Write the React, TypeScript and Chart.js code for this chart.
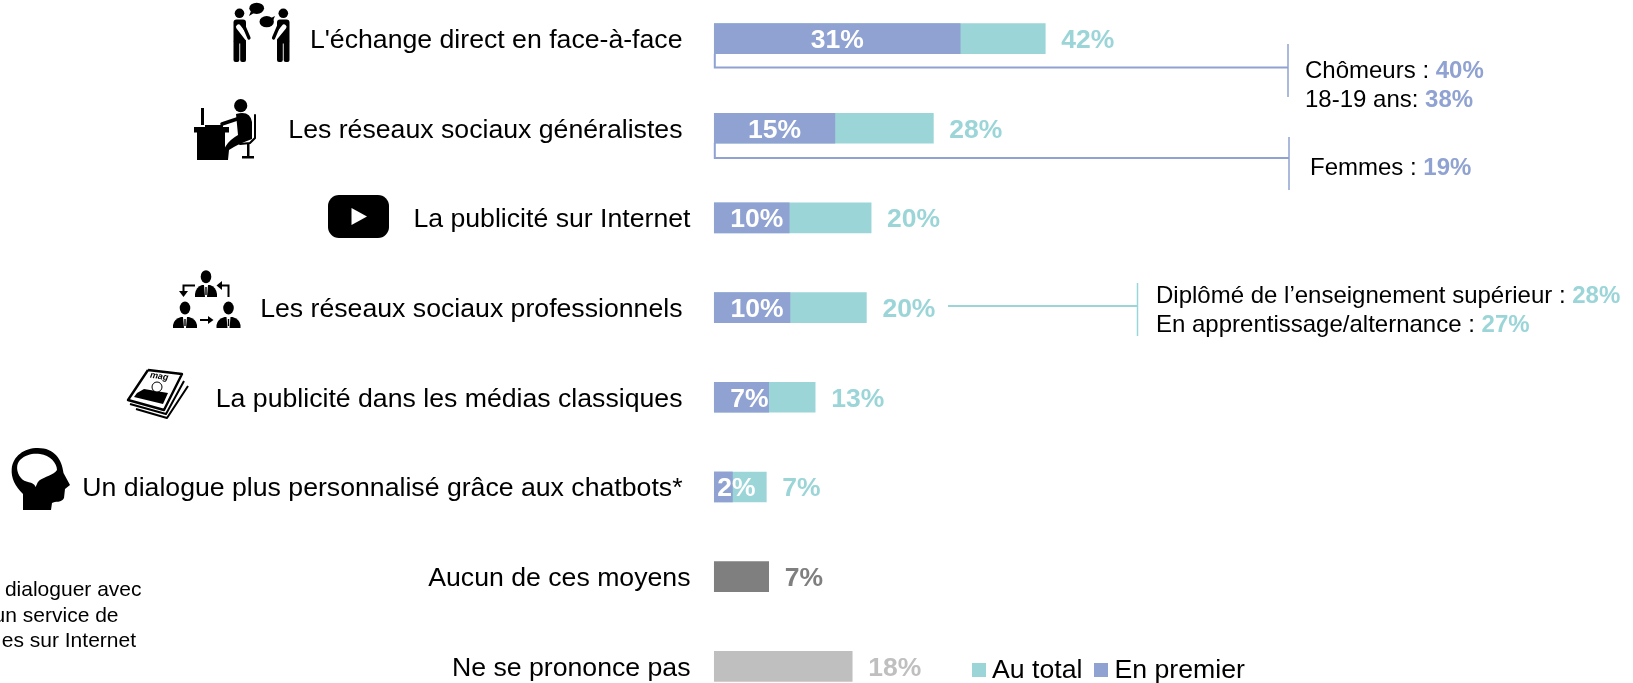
import React, { useEffect, useRef } from "react";
import { Chart, registerables } from "chart.js";

Chart.register(...registerables);

const categories = [
  "L'échange direct en face-à-face",
  "Les réseaux sociaux généralistes",
  "La publicité sur Internet",
  "Les réseaux sociaux professionnels",
  "La publicité dans les médias classiques",
  "Un dialogue plus personnalisé grâce aux chatbots*",
  "Aucun de ces moyens",
  "Ne se prononce pas",
];
const auTotal = [42, 27.8, 19.9, 19.3, 12.8, 6.6, 6.9, 17.5];
const enPremier = [31.2, 15.3, 9.5, 9.6, 6.9, 2.3, null, null];
const totalLabels = ["42%", "28%", "20%", "20%", "13%", "7%", "7%", "18%"];
const premierLabels = ["31%", "15%", "10%", "10%", "7%", "2%", "", ""];

const BLUE = "#8FA2D1";
const TEAL = "#9BD5D8";
const DARK = "#7F7F7F";
const LIGHT = "#BFBFBF";
const FONT = '"Liberation Sans", Arial, sans-serif';
const totalColors = [TEAL, TEAL, TEAL, TEAL, TEAL, TEAL, DARK, LIGHT];
const labelEnds = [682.5, 682.5, 690.5, 682.5, 682.5, 682.5, 690.5, 690.5];
const premierShift = [0, 0, 5, 5, 8, 13, 0, 0];

function mixed(ctx: CanvasRenderingContext2D, x: number, y: number, a: string, b: string, color: string) {
  ctx.textAlign = "left";
  ctx.textBaseline = "middle";
  ctx.font = `24px ${FONT}`;
  ctx.fillStyle = "#000";
  ctx.fillText(a, x, y);
  const w = ctx.measureText(a).width;
  ctx.font = `bold 24px ${FONT}`;
  ctx.fillStyle = color;
  ctx.fillText(b, x + w, y);
}

function seg(ctx: CanvasRenderingContext2D, pts: number[], color: string, w: number) {
  ctx.strokeStyle = color;
  ctx.lineWidth = w;
  ctx.beginPath();
  ctx.moveTo(pts[0], pts[1]);
  for (let i = 2; i < pts.length; i += 2) ctx.lineTo(pts[i], pts[i + 1]);
  ctx.stroke();
}

function poly(ctx: CanvasRenderingContext2D, pts: number[]) {
  ctx.beginPath();
  ctx.moveTo(pts[0], pts[1]);
  for (let i = 2; i < pts.length; i += 2) ctx.lineTo(pts[i], pts[i + 1]);
  ctx.closePath();
  ctx.fill();
}

function bust(ctx: CanvasRenderingContext2D, cx: number, headY: number, hw: number, top: number, bottom: number) {
  ctx.fillStyle = "#000";
  ctx.beginPath();
  ctx.ellipse(cx, headY, 5.3, 6.5, 0, 0, 7);
  ctx.fill();
  ctx.beginPath();
  ctx.moveTo(cx - hw, bottom);
  ctx.lineTo(cx - hw, bottom - 3);
  ctx.quadraticCurveTo(cx - hw + 1, top + 2, cx - 4, top);
  ctx.lineTo(cx + 4, top);
  ctx.quadraticCurveTo(cx + hw - 1, top + 2, cx + hw, bottom - 3);
  ctx.lineTo(cx + hw, bottom);
  ctx.closePath();
  ctx.fill();
  ctx.fillStyle = "#fff";
  poly(ctx, [cx - 2, top, cx + 2, top, cx + 1, bottom, cx - 1, bottom]);
  ctx.fillStyle = "#000";
  poly(ctx, [cx - 0.7, top + 2, cx + 0.7, top + 2, cx + 0.7, bottom - 2, cx - 0.7, bottom - 2]);
}

function drawIcons(ctx: CanvasRenderingContext2D) {
  ctx.save();
  ctx.fillStyle = "#000";
  ctx.lineCap = "round";
  const rr = (x: number, y: number, w: number, h: number, r: number) => {
    ctx.beginPath();
    ctx.roundRect(x, y, w, h, r);
    ctx.fill();
  };
  const circ = (x: number, y: number, r: number) => {
    ctx.beginPath();
    ctx.arc(x, y, r, 0, 7);
    ctx.fill();
  };

  // two people talking
  circ(239.5, 13.3, 4.8);
  circ(283.3, 13.3, 4.8);
  rr(233.5, 19.5, 12.5, 24, 3);
  rr(277, 19.5, 12.5, 24, 3);
  rr(233.5, 40, 5.8, 22, 2);
  rr(240.2, 40, 5.8, 22, 2);
  rr(277, 40, 5.8, 22, 2);
  rr(283.7, 40, 5.8, 22, 2);
  seg(ctx, [238.5, 27, 247, 38], "#fff", 5);
  seg(ctx, [284, 27, 275, 38], "#fff", 5);
  seg(ctx, [243, 24, 249, 38], "#000", 3.2);
  seg(ctx, [279.5, 24, 273.5, 38], "#000", 3.2);
  ctx.beginPath();
  ctx.ellipse(256.7, 8.3, 7.4, 5.6, 0, 0, 7);
  ctx.fill();
  ctx.beginPath();
  ctx.ellipse(266.7, 21.7, 7.2, 5.6, 0, 0, 7);
  ctx.fill();
  poly(ctx, [251, 11, 249, 16, 254, 13]);
  poly(ctx, [271, 18, 275, 16, 272, 23]);

  // person at desk
  circ(240.7, 105.7, 6.6);
  ctx.beginPath();
  ctx.moveTo(236, 114);
  ctx.quadraticCurveTo(250, 110, 252, 122);
  ctx.lineTo(252, 139);
  ctx.quadraticCurveTo(236, 145, 229, 150);
  ctx.lineTo(228, 160);
  ctx.lineTo(222, 160);
  ctx.quadraticCurveTo(222, 144, 238, 135);
  ctx.closePath();
  ctx.fill();
  seg(ctx, [240, 118, 222, 124], "#000", 3.5);
  ctx.fillRect(194, 127, 35, 5.5);
  ctx.fillRect(197, 132, 28, 28);
  ctx.fillRect(201, 108, 3, 17);
  ctx.fillRect(205, 125, 18, 2);
  seg(ctx, [255, 115, 255, 138, 250, 143, 240, 144], "#000", 2);
  ctx.fillRect(247, 144, 2.5, 13);
  ctx.fillRect(242, 156, 12, 2.5);

  // play button
  rr(328, 195, 61, 43, 11);
  ctx.fillStyle = "#fff";
  poly(ctx, [351.5, 208, 351.5, 225, 367, 216.5]);
  ctx.fillStyle = "#000";

  // network of people
  bust(ctx, 206, 276.7, 11, 285, 297);
  bust(ctx, 185, 308, 12, 317, 328);
  bust(ctx, 228.5, 308, 12, 317, 328);
  ctx.lineCap = "butt";
  seg(ctx, [195, 285.5, 183.5, 285.5, 183.5, 292], "#000", 2);
  poly(ctx, [179, 291, 188, 291, 183.5, 297]);
  seg(ctx, [228.5, 297, 228.5, 285.5, 221, 285.5], "#000", 2);
  poly(ctx, [222, 281, 222, 290, 216.5, 285.5]);
  seg(ctx, [200, 320, 209, 320], "#000", 2);
  poly(ctx, [208, 316, 208, 324, 213.5, 320]);

  // magazine
  ctx.lineJoin = "round";
  seg(ctx, [148, 370, 182, 374, 164, 410, 128, 400, 148, 370], "#000", 2.4);
  seg(ctx, [184, 381, 166, 414, 130, 404], "#000", 2);
  seg(ctx, [188, 386, 167, 418, 136, 409], "#000", 2);
  poly(ctx, [137, 393, 144, 389, 168, 393, 163, 404, 134, 397]);
  ctx.beginPath();
  ctx.arc(157, 387, 5, 0, 7);
  ctx.fillStyle = "#fff";
  ctx.fill();
  ctx.strokeStyle = "#000";
  ctx.lineWidth = 1;
  ctx.stroke();
  ctx.fillStyle = "#000";
  ctx.font = `italic bold 9px ${FONT}`;
  ctx.textAlign = "left";
  ctx.textBaseline = "middle";
  ctx.save();
  ctx.translate(150, 375);
  ctx.rotate(0.15);
  ctx.fillText("mag", 0, 0);
  ctx.restore();

  // head with brain
  ctx.beginPath();
  ctx.moveTo(23, 510);
  ctx.lineTo(23, 494);
  ctx.bezierCurveTo(15, 486, 11, 478, 11.7, 469);
  ctx.bezierCurveTo(13, 456, 24, 448, 38, 448);
  ctx.bezierCurveTo(54, 448, 62, 459, 63.5, 473);
  ctx.lineTo(70, 485);
  ctx.lineTo(65, 489);
  ctx.lineTo(64, 498);
  ctx.bezierCurveTo(62, 503, 55, 501, 52, 503);
  ctx.lineTo(51, 510);
  ctx.closePath();
  ctx.fill();
  ctx.fillStyle = "#fff";
  ctx.beginPath();
  ctx.moveTo(35.5, 487);
  ctx.bezierCurveTo(34, 481, 24, 483, 21, 478);
  ctx.bezierCurveTo(16, 472, 16, 464, 20, 460);
  ctx.bezierCurveTo(26, 454, 34, 453, 40, 454);
  ctx.bezierCurveTo(50, 455, 57, 463, 57, 470);
  ctx.bezierCurveTo(54, 475, 44, 477, 40, 480);
  ctx.bezierCurveTo(37, 482, 37, 485, 35.5, 487);
  ctx.closePath();
  ctx.fill();
  ctx.restore();
}

const overlay = {
  id: "overlay",
  afterDatasetsDraw(chart: any) {
    const { ctx, scales } = chart;
    const x = scales.x;
    const y = scales.y;
    ctx.save();
    ctx.textBaseline = "middle";
    categories.forEach((c, i) => {
      const yy = y.getPixelForValue(i);
      ctx.textAlign = "right";
      ctx.font = `26.67px ${FONT}`;
      ctx.fillStyle = "#000";
      ctx.fillText(c, labelEnds[i], yy + 2);
      ctx.textAlign = "left";
      ctx.font = `bold 26.5px ${FONT}`;
      ctx.fillStyle = totalColors[i];
      ctx.fillText(totalLabels[i], x.getPixelForValue(auTotal[i]) + 16, yy + 2);
      const p = enPremier[i];
      if (p != null) {
        ctx.textAlign = "center";
        ctx.fillStyle = "#fff";
        ctx.fillText(premierLabels[i], x.getPixelForValue(p / 2) + premierShift[i], yy + 2);
      }
    });

    // brackets to sub-population call-outs
    const x0 = x.getPixelForValue(0);
    seg(ctx, [x0 + 0.5, 54, x0 + 0.5, 67.5, 1288, 67.5], BLUE, 2);
    seg(ctx, [1288, 44, 1288, 97], BLUE, 1.5);
    seg(ctx, [x0 + 0.5, 143, x0 + 0.5, 158, 1289, 158], BLUE, 2);
    seg(ctx, [1289, 137, 1289, 190], BLUE, 1.5);
    seg(ctx, [948, 306, 1137.5, 306], TEAL, 2);
    seg(ctx, [1137.5, 283, 1137.5, 336], TEAL, 1.5);
    mixed(ctx, 1305, 71, "Chômeurs : ", "40%", BLUE);
    mixed(ctx, 1305, 100, "18-19 ans: ", "38%", BLUE);
    mixed(ctx, 1310, 168, "Femmes : ", "19%", BLUE);
    mixed(ctx, 1156, 296, "Diplômé de l’enseignement supérieur : ", "28%", TEAL);
    mixed(ctx, 1156, 325, "En apprentissage/alternance : ", "27%", TEAL);

    // legend
    ctx.fillStyle = TEAL;
    ctx.fillRect(972, 663, 14, 14);
    ctx.fillStyle = BLUE;
    ctx.fillRect(1094, 663, 14, 14);
    ctx.textAlign = "left";
    ctx.font = `26.67px ${FONT}`;
    ctx.fillStyle = "#000";
    ctx.fillText("Au total", 992, 671);
    ctx.fillText("En premier", 1114.5, 671);

    // note cut by the left edge
    ctx.textAlign = "right";
    ctx.font = `21px ${FONT}`;
    ctx.fillText("dialoguer avec", 141.5, 590);
    ctx.fillText("un service de", 118.5, 616);
    ctx.fillText("es sur Internet", 136, 641.5);

    drawIcons(ctx);
    ctx.restore();
  },
};

export default function App() {
  const ref = useRef<HTMLCanvasElement>(null);
  useEffect(() => {
    const chart = new Chart(ref.current!, {
      type: "bar",
      data: {
        labels: categories,
        datasets: [
          {
            label: "En premier",
            data: enPremier,
            backgroundColor: BLUE,
            order: 1,
            barThickness: 30,
            clip: false,
          },
          {
            label: "Au total",
            data: auTotal,
            backgroundColor: totalColors,
            order: 2,
            barThickness: 30,
            clip: false,
          },
        ],
      } as any,
      options: {
        indexAxis: "y",
        responsive: false,
        animation: false,
        layout: { padding: { left: 714.3, right: 4.6, top: 38.6, bottom: 16.7 } },
        plugins: { legend: { display: false }, tooltip: { enabled: false } },
        datasets: { bar: { grouped: false } },
        scales: {
          x: { min: 0, max: 116, display: false },
          y: { type: "category", offset: false, display: false },
        },
      } as any,
      plugins: [overlay],
    });
    return () => chart.destroy();
  }, []);
  return (
    <canvas
      ref={ref}
      width={1633}
      height={683}
      style={{ position: "fixed", left: 0, top: 0, width: 1633, height: 683, display: "block" }}
    />
  );
}
